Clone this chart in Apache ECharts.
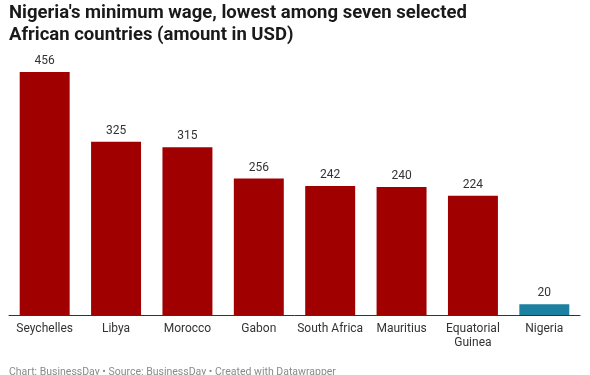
<!DOCTYPE html>
<html>
<head>
<meta charset="utf-8">
<script src="https://cdn.jsdelivr.net/npm/echarts@6/dist/echarts.min.js"></script>
<style>
  html, body { margin: 0; padding: 0; background: #fff; }
  #chart { width: 590px; height: 375px; }
</style>
</head>
<body>
<div id="chart"></div>
<script>
// data
var countries = ['Seychelles', 'Libya', 'Morocco', 'Gabon', 'South Africa', 'Mauritius', 'Equatorial Guinea', 'Nigeria'];
var wages = [456, 325, 315, 256, 242, 240, 224, 20];
var highlight = 'Nigeria';

var myChart = echarts.init(document.getElementById('chart'));
var option = {
    animation: false,
    textStyle: { fontFamily: 'Roboto' },
    title: [{
        text: "Nigeria's minimum wage, lowest among seven selected\nAfrican countries (amount in USD)",
        left: 9,
        top: 2,
        padding: 0,
        textStyle: {
            fontFamily: 'Roboto',
            fontSize: 18.5,
            fontWeight: 'bold',
            color: '#1a1a1a',
            lineHeight: 22
        }
    }, {
        text: 'Chart: BusinessDay • Source: BusinessDay • Created with Datawrapper',
        left: 9,
        top: 367,
        padding: 0,
        textStyle: {
            fontFamily: 'Roboto',
            fontSize: 10.5,
            fontWeight: 'normal',
            color: '#8a8a8a'
        }
    }],
    grid: {
        left: 9,
        right: 10,
        top: 72,
        bottom: 60,
        containLabel: false
    },
    xAxis: {
        type: 'category',
        data: countries,
        axisLine: { lineStyle: { color: '#333', width: 1 } },
        axisTick: { show: false },
        axisLabel: {
            color: '#333',
            fontSize: 12,
            margin: 7,
            lineHeight: 14,
            interval: 0,
            formatter: function (v) {
                return v.replace('Equatorial ', 'Equatorial\n');
            }
        }
    },
    yAxis: {
        type: 'value',
        min: 0,
        max: 456,
        show: false,
        splitLine: { show: false }
    },
    series: [{
        type: 'bar',
        barCategoryGap: '30%',
        data: wages.map(function (v, i) {
            return {
                value: v,
                itemStyle: { color: countries[i] === highlight ? '#1c80a1' : '#a10000' }
            };
        }),
        label: {
            show: true,
            position: 'top',
            distance: 5,
            color: '#333',
            fontSize: 12
        }
    }]
};
myChart.setOption(option);
</script>
</body>
</html>
